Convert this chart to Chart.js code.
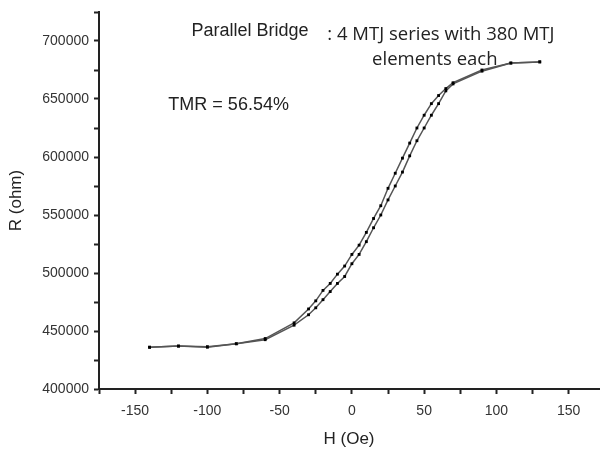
<!DOCTYPE html>
<html>
<head>
<meta charset="utf-8">
<title>Parallel Bridge R-H</title>
<script src="https://cdn.jsdelivr.net/npm/chart.js@4.4.0/dist/chart.umd.min.js"></script>
<style>
  html, body { margin: 0; padding: 0; background: #fff; }
  #wrap { width: 603px; height: 450px; }
</style>
</head>
<body>
<div id="wrap"><canvas id="grafico" width="603" height="450"></canvas></div>
<script>
// field sweep (Oe)
const campoH = [-140, -120, -100, -80, -60, -40, -30, -25, -20, -15, -10, -5, 0, 5, 10,
  15, 20, 25, 30, 35, 40, 45, 50, 55, 60, 65, 70, 90, 110, 130];

// upper branch (sweep down) and lower branch (sweep up), ohm
const ramoDescida = [436000, 437000, 436500, 439000, 443500, 457000, 469000, 476000, 485000, 491000,
  499000, 506000, 516000, 524000, 535000, 547000, 558000, 573000, 586000, 599000,
  612000, 625000, 636000, 646000, 653000, 659000, 664000, 675000, 681000, 682000];
const ramoSubida = [436000, 437000, 436000, 439000, 442500, 455000, 464000, 470000, 477000, 484000,
  491000, 497000, 508000, 516000, 527000, 539000, 550000, 563000, 575000, 587000,
  601000, 614000, 625000, 636000, 646000, 657000, 663000, 674000, 681000, 682000];

// axis limits (right end of the H axis is cut by the picture edge)
const xMin = -175, xMax = 171, xStep = 25;
const yMin = 400000, yMax = 725000, yStep = 25000;

// annotations, anchored in data units
const anotacoes = [
  { text: 'Parallel Bridge', x: -111, y: 708500, font: '18px "Liberation Sans", Arial, sans-serif' },
  { text: ': 4 MTJ series with 380 MTJ', x: -17, y: 705500, font: '18.5px "Open Sans", sans-serif' },
  { text: 'elements each', x: 14, y: 684000, font: '18.5px "Open Sans", sans-serif' },
  { text: 'TMR = 56.54%', x: -127, y: 645000, font: '18px "Liberation Sans", Arial, sans-serif' }
];

const pontos = arr => campoH.map((h, i) => ({ x: h, y: arr[i] }));

const textoPlugin = {
  id: 'textoPlugin',
  afterDatasetsDraw(chart) {
    const ctx = chart.ctx;
    const sx = chart.scales.x, sy = chart.scales.y;
    ctx.save();
    ctx.fillStyle = '#222';
    ctx.textBaseline = 'middle';
    ctx.textAlign = 'left';
    anotacoes.forEach(a => {
      ctx.font = a.font;
      ctx.fillText(a.text, sx.getPixelForValue(a.x), sy.getPixelForValue(a.y));
    });
    ctx.restore();
  }
};

const serie = (label, arr) => ({
  label,
  data: pontos(arr),
  borderColor: '#555',
  borderWidth: 1.5,
  pointStyle: 'rect',
  pointRadius: 2,
  pointBackgroundColor: '#000',
  pointBorderColor: '#000',
  pointBorderWidth: 0,
  tension: 0,
  fill: false
});

new Chart(document.getElementById('grafico').getContext('2d'), {
  type: 'line',
  data: {
    datasets: [serie('down', ramoDescida), serie('up', ramoSubida)]
  },
  options: {
    responsive: false,
    animation: false,
    layout: { padding: { top: 12, right: 0, left: 6, bottom: 0 } },
    plugins: { legend: { display: false }, tooltip: { enabled: false } },
    scales: {
      x: {
        type: 'linear',
        min: xMin, max: xMax,
        afterFit: s => { s.height = 61; s.paddingLeft = 0; s.paddingRight = 0; },
        border: { color: '#222', width: 2 },
        grid: { drawOnChartArea: false, tickLength: 5, tickColor: '#222', tickWidth: 2 },
        ticks: {
          stepSize: xStep,
          includeBounds: false,
          color: '#333',
          padding: 9,
          maxRotation: 0,
          autoSkip: false,
          font: { family: '"Liberation Sans", Arial, sans-serif', size: 14 },
          callback: v => (v % 50 === 0 ? String(v) : '')
        },
        title: {
          display: true,
          text: 'H (Oe)',
          color: '#222',
          padding: { top: 2, bottom: 0 },
          font: { family: '"Liberation Sans", Arial, sans-serif', size: 17 }
        }
      },
      y: {
        type: 'linear',
        min: yMin, max: yMax,
        afterFit: s => { s.width = 93; s.paddingTop = 0; s.paddingBottom = 0; },
        border: { color: '#222', width: 2 },
        grid: { drawOnChartArea: false, tickLength: 5, tickColor: '#222', tickWidth: 2 },
        ticks: {
          stepSize: yStep,
          color: '#333',
          padding: 5,
          autoSkip: false,
          font: { family: '"Liberation Sans", Arial, sans-serif', size: 14 },
          callback: v => (v % 50000 === 0 ? String(v) : '')
        },
        title: {
          display: true,
          text: 'R (ohm)',
          color: '#222',
          padding: 0,
          font: { family: '"Liberation Sans", Arial, sans-serif', size: 17 }
        }
      }
    }
  },
  plugins: [textoPlugin]
});
</script>
</body>
</html>
